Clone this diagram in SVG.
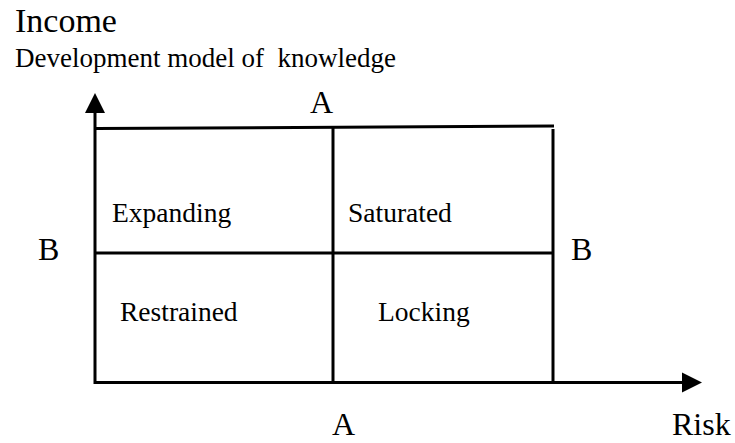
<svg xmlns="http://www.w3.org/2000/svg" width="735" height="443" viewBox="0 0 735 443">
  <style>
    .t { font-family: "Liberation Serif", "Times New Roman", serif; fill: #000; }
    .head { font-size: 34px; }
    .sub { font-size: 27px; }
    .big { font-size: 32px; }
    .lbl { font-size: 27.5px; }
    .ln { stroke: #000; stroke-width: 3; fill: none; }
  </style>
  <rect width="735" height="443" fill="#fff"/>

  <g id="titles">
    <text class="t head" x="15" y="32">Income</text>
    <text class="t sub" x="15" y="67" xml:space="preserve">Development model of  knowledge</text>
  </g>

  <g id="connectors">
    <!-- vertical axis -->
    <line class="ln" x1="95" y1="384" x2="95" y2="112"/>
    <polygon points="95,93 85,113 105,113" fill="#000"/>
    <!-- horizontal axis -->
    <line class="ln" x1="94" y1="382.5" x2="683" y2="382.5"/>
    <polygon points="702,382.5 682,372.5 682,392.5" fill="#000"/>
    <!-- grid -->
    <line class="ln" x1="96" y1="128.5" x2="554" y2="126"/>
    <line class="ln" x1="553" y1="129" x2="553" y2="382"/>
    <line class="ln" x1="333" y1="128" x2="333" y2="382"/>
    <line class="ln" x1="95" y1="253" x2="553" y2="253"/>
  </g>

  <g id="axis-labels">
    <text class="t big" x="310" y="113">A</text>
    <text class="t big" x="38" y="260">B</text>
    <text class="t big" x="571" y="260">B</text>
    <text class="t big" x="332" y="435">A</text>
    <text class="t big" x="672" y="435">Risk</text>
  </g>

  <g id="expanding"><text class="t lbl" x="112" y="222">Expanding</text></g>
  <g id="saturated"><text class="t lbl" x="348" y="222">Saturated</text></g>
  <g id="restrained"><text class="t lbl" x="120" y="321">Restrained</text></g>
  <g id="locking"><text class="t lbl" x="378" y="321">Locking</text></g>
</svg>
